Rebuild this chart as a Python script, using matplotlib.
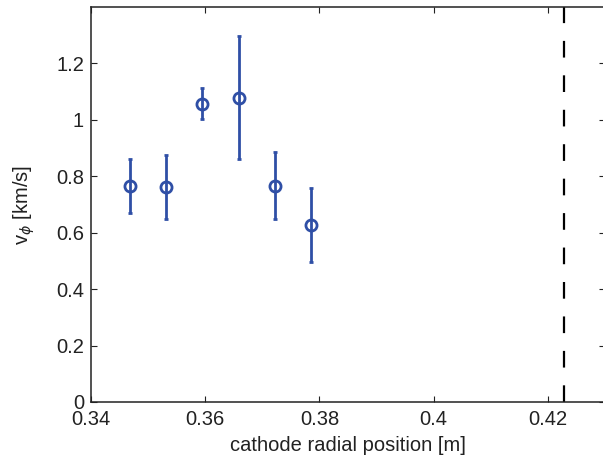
import numpy as np
import matplotlib
matplotlib.use('Agg')
from matplotlib import pyplot as plt

# Measured points (cathode radial position, azimuthal velocity, error)
r_pos = [0.3468, 0.3531, 0.3595, 0.3659, 0.3722, 0.3786]
v_phi = [0.765, 0.762, 1.057, 1.078, 0.767, 0.627]
v_err = [0.096, 0.113, 0.055, 0.218, 0.120, 0.132]

# Anode / wall position
r_wall = 0.4229

xticks = [0.34, 0.36, 0.38, 0.4, 0.42]
xticklabels = ['0.34', '0.36', '0.38', '0.4', '0.42']
yticks = [0, 0.2, 0.4, 0.6, 0.8, 1.0, 1.2]
yticklabels = ['0', '0.2', '0.4', '0.6', '0.8', '1', '1.2']

plt.rcParams['font.family'] = ['Liberation Sans', 'DejaVu Sans']
plt.rcParams['mathtext.fontset'] = 'dejavusans'

fig = plt.figure(figsize=(6.03, 4.70), dpi=100)
# right edge of the box falls just outside the picture, as in the original
ax = fig.add_axes([0.151, 0.1447, 0.852, 0.8404])

blue = '#2f4fa6'
ax.errorbar(r_pos, v_phi, yerr=v_err, fmt='o', color=blue, mfc='none',
            mec=blue, ms=8, mew=2.0, elinewidth=2.0, capsize=1.3,
            capthick=2.0)
ax.axvline(r_wall, color='black', lw=1.6, dashes=(7.5, 8))

ax.set_xlim(0.34, 0.43)
ax.set_ylim(0, 1.4)
ax.set_xticks(xticks)
ax.set_xticklabels(xticklabels)
ax.set_yticks(yticks)
ax.set_yticklabels(yticklabels)
ax.tick_params(direction='in', length=4, width=0.8, top=True, right=True,
               labelsize=14.5, colors='#222222')
ax.tick_params(axis='x', pad=6)
ax.tick_params(axis='y', pad=5)
for s in ax.spines.values():
    s.set_linewidth(1.1)
    s.set_color('#222222')
ax.spines['right'].set_visible(False)

ax.set_xlabel('cathode radial position [m]', fontsize=14.5, color='#222222',
              labelpad=5)
ax.set_ylabel(r'v$_\phi$ [km/s]', fontsize=14.5, color='#222222', labelpad=14)

fig.savefig('out.png', dpi=100)
